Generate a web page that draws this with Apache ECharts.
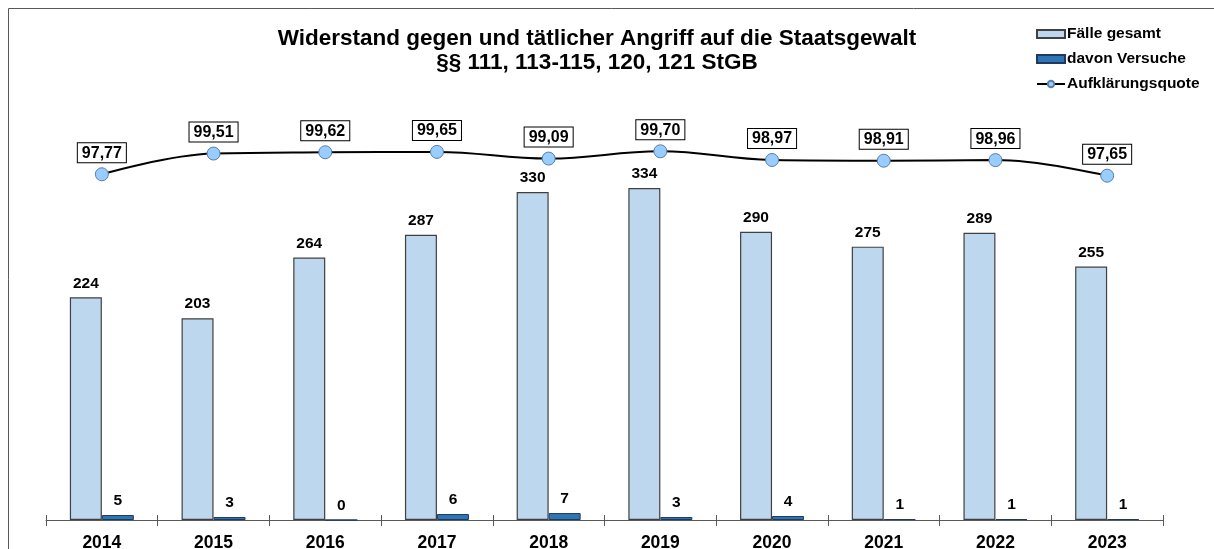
<!DOCTYPE html>
<html>
<head>
<meta charset="utf-8">
<script src="https://cdn.jsdelivr.net/npm/echarts@6/dist/echarts.min.js"></script>
<style>
  html, body { margin: 0; padding: 0; background: #fff; }
  #chart { width: 1214px; height: 549px; }
</style>
</head>
<body>
<div id="chart"></div>
<script>
// Jahre und Werte
const years = ['2014', '2015', '2016', '2017', '2018', '2019', '2020', '2021', '2022', '2023'];
const faelleGesamt = [224, 203, 264, 287, 330, 334, 290, 275, 289, 255];
const davonVersuche = [5, 3, 0, 6, 7, 3, 4, 1, 1, 1];
const aufklaerungsquote = [97.77, 99.51, 99.62, 99.65, 99.09, 99.70, 98.97, 98.91, 98.96, 97.65];

const FONT = '"Liberation Sans", Arial, sans-serif';

const chart = echarts.init(document.getElementById('chart'), null, { renderer: 'canvas' });

chart.setOption({
  backgroundColor: '#fff',
  animation: false,
  textStyle: { fontFamily: FONT },
  title: {
    text: 'Widerstand gegen und tätlicher Angriff auf die Staatsgewalt\n§§ 111, 113-115, 120, 121 StGB',
    left: 592,
    top: 22,
    textAlign: 'center',
    textStyle: { fontFamily: FONT, fontSize: 22.5, fontWeight: 'bold', color: '#000', lineHeight: 24 }
  },
  legend: {
    orient: 'vertical',
    left: 1036,
    top: 26,
    padding: 0,
    itemWidth: 28,
    itemHeight: 8,
    itemGap: 9,
    textStyle: { fontFamily: FONT, fontSize: 15.5, fontWeight: 'bold', color: '#000', padding: [0, 0, 0, -3] },
    data: [
      { name: 'Fälle gesamt', icon: 'rect' },
      { name: 'davon Versuche', icon: 'rect' },
      { name: 'Aufklärungsquote' }
    ]
  },
  graphic: [{
    type: 'rect',
    shape: { x: 8.5, y: 8.5, width: 1400, height: 800 },
    style: { fill: null, stroke: '#595959', lineWidth: 1 },
    silent: true
  }],
  grid: { left: 46, right: 51, top: 23, bottom: 29, outerBoundsMode: 'none', containLabel: false },
  xAxis: [
    {
      type: 'category',
      data: years,
      axisLine: { lineStyle: { color: '#595959', width: 1 } },
      axisTick: { show: true, length: 6, lineStyle: { color: '#595959' } },
      axisLabel: { fontFamily: FONT, fontSize: 17.5, fontWeight: 'bold', color: '#000', margin: 14 }
    },
    {
      // nur für die Striche oberhalb der Achse
      type: 'category',
      data: years,
      position: 'bottom',
      axisLine: { show: false },
      axisTick: { show: true, inside: true, length: 5, lineStyle: { color: '#595959' } },
      axisLabel: { show: false }
    }
  ],
  yAxis: [
    { type: 'value', min: 0, max: 500, show: false, splitLine: { show: false } },
    { type: 'value', min: 68.72, max: 110.48, show: false, splitLine: { show: false } }
  ],
  series: [
    {
      name: 'Fälle gesamt',
      type: 'bar',
      data: faelleGesamt,
      barWidth: 32,
      barGap: '0%',
      itemStyle: { color: '#BDD7EE', borderColor: '#404040', borderWidth: 1.2 },
      label: {
        show: true, position: 'top', distance: 6,
        fontFamily: FONT, fontSize: 15.5, fontWeight: 'bold', color: '#000'
      }
    },
    {
      name: 'davon Versuche',
      type: 'bar',
      data: davonVersuche,
      barWidth: 32,
      barGap: '0%',
      itemStyle: { color: '#2E75B6', borderColor: '#1F3A5F', borderWidth: 1 },
      label: {
        show: true, position: 'top', distance: 6,
        fontFamily: FONT, fontSize: 15.5, fontWeight: 'bold', color: '#000'
      }
    },
    {
      name: 'Aufklärungsquote',
      type: 'line',
      yAxisIndex: 1,
      data: aufklaerungsquote,
      smooth: 0.4,
      symbol: 'circle',
      symbolSize: 13,
      lineStyle: { color: '#000', width: 2 },
      itemStyle: { color: '#99CCFF', borderColor: '#5B7FA6', borderWidth: 1 },
      label: {
        show: true, position: 'top', distance: 5,
        fontFamily: FONT, fontSize: 16, fontWeight: 'bold', color: '#000',
        backgroundColor: '#fff', borderColor: '#000', borderWidth: 1,
        padding: [2, 4, 1, 4],
        formatter: p => p.value.toFixed(2).replace('.', ',')
      }
    }
  ]
});
</script>
</body>
</html>
